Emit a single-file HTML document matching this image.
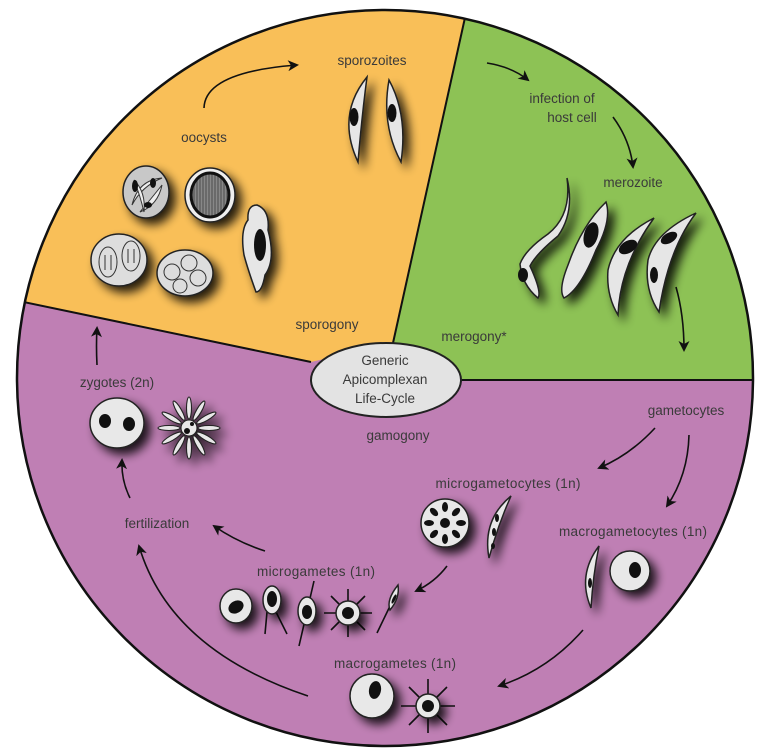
<!DOCTYPE html>
<html><head><meta charset="utf-8"><style>
html,body{margin:0;padding:0;background:#fff;}
svg{display:block}
text{font-family:"Liberation Sans",sans-serif;font-size:13.5px;fill:#3a3a3a;text-anchor:middle}
</style></head><body>
<svg width="762" height="756" viewBox="0 0 762 756" xmlns="http://www.w3.org/2000/svg">
<defs>
<filter id="sh" x="-80%" y="-80%" width="260%" height="260%">
<feGaussianBlur in="SourceAlpha" stdDeviation="5"/><feOffset dx="6" dy="6"/>
<feComponentTransfer><feFuncA type="linear" slope="0.85"/></feComponentTransfer>
<feMerge><feMergeNode/><feMergeNode in="SourceGraphic"/></feMerge></filter>
<marker id="ah" markerWidth="11" markerHeight="11" refX="9" refY="5.5" orient="auto" markerUnits="userSpaceOnUse">
<path d="M0,0 L11,5.5 L0,11 L3,5.5 Z" fill="#111"/></marker>
<clipPath id="cc"><circle cx="385" cy="378" r="368"/></clipPath>
<pattern id="st" width="3" height="3" patternUnits="userSpaceOnUse"><rect width="3" height="3" fill="#6a6a6a"/><rect width="1" height="3" fill="#888"/></pattern>
</defs>
<g clip-path="url(#cc)">
<rect x="0" y="0" width="762" height="756" fill="#BF7FB4"/>
<polygon points="465,20 393,343 311,362 24,302 -10,295 -10,-10 470,-10" fill="#F9BF58"/>
<polygon points="465,20 393,343 386,380 770,380 770,-10 470,-10" fill="#8DC255"/>
<polyline points="-10,295 311,362" stroke="#111" stroke-width="2" fill="none"/>
<polyline points="470,-5 393,343" stroke="#111" stroke-width="2" fill="none"/>
<polyline points="440,380 770,380" stroke="#111" stroke-width="2" fill="none"/>
</g>
<circle cx="385" cy="378" r="368" fill="none" stroke="#111" stroke-width="2.5"/>
<ellipse cx="386" cy="380" rx="75" ry="37" fill="#e3e3e3" stroke="#222" stroke-width="2"/>
<text x="385" y="365">Generic</text>
<text x="385" y="384">Apicomplexan</text>
<text x="385" y="403">Life-Cycle</text>

<text x="372" y="65">sporozoites</text>
<text x="204" y="142">oocysts</text>
<text x="562" y="103">infection of</text>
<text x="572" y="122">host cell</text>
<text x="633" y="187">merozoite</text>
<text x="327" y="329">sporogony</text>
<text x="474" y="341">merogony*</text>
<text x="117" y="387">zygotes (2n)</text>
<text x="398" y="440">gamogony</text>
<text x="686" y="415">gametocytes</text>
<text x="508" y="488" textLength="145">microgametocytes (1n)</text>
<text x="157" y="528">fertilization</text>
<text x="633" y="536" textLength="148">macrogametocytes (1n)</text>
<text x="316" y="576" textLength="118">microgametes (1n)</text>
<text x="395" y="668" textLength="122">macrogametes (1n)</text>

<g fill="none" stroke="#111" stroke-width="1.6" marker-end="url(#ah)">
<path d="M204,108 Q205,72 297,65"/>
<path d="M487,63 Q512,67 528,80"/>
<path d="M613,117 Q630,140 633,167"/>
<path d="M676,287 Q684,315 684,350"/>
<path d="M97,365 Q96,345 97,328"/>
<path d="M655,428 Q630,455 599,468"/>
<path d="M689,435 Q688,475 667,506"/>
<path d="M447,566 Q435,582 416,591"/>
<path d="M265,551 Q237,542 214,526"/>
<path d="M130,498 Q121,480 122,460"/>
<path d="M583,630 Q548,670 499,686"/>
<path d="M308,696 Q170,650 139,546"/>
</g>

<g filter="url(#sh)" stroke="#222" stroke-width="1.5">
<ellipse cx="146" cy="192" rx="23" ry="26" fill="#c8c8c8"/>
<ellipse cx="210" cy="195" rx="25" ry="27" fill="#eee"/>
<path d="M257,205 Q270,210 268,230 Q276,260 265,275 Q262,292 256,292 Q248,270 244,255 Q240,230 248,220 Q247,205 257,205 Z" fill="#e6e6e6"/>
<ellipse cx="119" cy="260" rx="28" ry="26" fill="#ddd"/>
<ellipse cx="185" cy="273" rx="28" ry="23" fill="#ddd"/>
</g>
<ellipse cx="210" cy="195" rx="19" ry="22" fill="url(#st)" stroke="#111" stroke-width="3"/>
<ellipse cx="260" cy="245" rx="6" ry="16" fill="#111"/>
<g fill="#eee" stroke="#333" stroke-width="1">
<path d="M132,205 Q138,180 162,178 Q142,186 132,205 Z"/>
<path d="M140,212 Q158,205 162,185 Q150,200 140,212 Z"/>
<path d="M134,180 Q146,192 144,212 Q140,195 134,180 Z"/>
</g>
<g fill="none" stroke="#333" stroke-width="1">
<ellipse cx="108" cy="262" rx="9" ry="15"/><ellipse cx="131" cy="256" rx="9" ry="15"/>
<path d="M105,255 V270 M111,255 V270 M128,249 V263 M134,249 V263"/>
<ellipse cx="172" cy="272" rx="8" ry="8"/><ellipse cx="189" cy="263" rx="8" ry="8"/><ellipse cx="198" cy="278" rx="8" ry="8"/><ellipse cx="180" cy="286" rx="7" ry="7"/>
</g>
<g fill="#111"><ellipse cx="135" cy="186" rx="3" ry="6"/><ellipse cx="153" cy="183" rx="3" ry="5"/><ellipse cx="148" cy="205" rx="4" ry="3"/></g>

<g filter="url(#sh)" stroke="#222" stroke-width="1.5" fill="#e6e6e6">
<path d="M367,77 Q336,115 358,162 Q362,115 367,77 Z"/>
<path d="M389,80 Q381,125 401,162 Q408,115 389,80 Z"/>
</g>
<ellipse cx="354" cy="117" rx="4.5" ry="9" fill="#111"/>
<ellipse cx="392" cy="113" rx="4.5" ry="9" fill="#111"/>

<g filter="url(#sh)" stroke="#222" stroke-width="1.5" fill="#e6e6e6">
<path d="M567,178 Q572,215 548,234 Q525,250 520,264 Q522,285 538,298 Q542,292 530,266 Q536,254 558,236 Q575,212 567,178 Z"/>
<path d="M606,202 Q582,225 568,265 Q558,290 564,298 Q580,290 596,250 Q612,220 606,202 Z"/>
<path d="M654,218 Q615,238 608,270 Q606,295 618,315 Q620,265 654,218 Z"/>
<path d="M696,213 Q655,232 648,260 Q644,290 659,312 Q668,250 696,213 Z"/>
</g>
<g fill="#111">
<ellipse cx="523" cy="275" rx="5" ry="7"/>
<ellipse cx="591" cy="235" rx="7" ry="13" transform="rotate(15 591 235)"/>
<ellipse cx="628" cy="247" rx="6" ry="10" transform="rotate(60 628 247)"/>
<ellipse cx="669" cy="238" rx="5" ry="9" transform="rotate(60 669 238)"/>
<ellipse cx="654" cy="275" rx="4" ry="8"/>
</g>

<g filter="url(#sh)" stroke="#222" stroke-width="1.5" fill="#e8e8e8">
<ellipse cx="117" cy="423" rx="27" ry="25"/>
<g stroke-width="1.1">
<ellipse cx="189" cy="408" rx="2.5" ry="11"/>
<ellipse cx="189" cy="408" rx="2.5" ry="11" transform="rotate(30 189 428)"/>
<ellipse cx="189" cy="408" rx="2.5" ry="11" transform="rotate(60 189 428)"/>
<ellipse cx="189" cy="408" rx="2.5" ry="11" transform="rotate(90 189 428)"/>
<ellipse cx="189" cy="408" rx="2.5" ry="11" transform="rotate(120 189 428)"/>
<ellipse cx="189" cy="408" rx="2.5" ry="11" transform="rotate(150 189 428)"/>
<ellipse cx="189" cy="408" rx="2.5" ry="11" transform="rotate(180 189 428)"/>
<ellipse cx="189" cy="408" rx="2.5" ry="11" transform="rotate(210 189 428)"/>
<ellipse cx="189" cy="408" rx="2.5" ry="11" transform="rotate(240 189 428)"/>
<ellipse cx="189" cy="408" rx="2.5" ry="11" transform="rotate(270 189 428)"/>
<ellipse cx="189" cy="408" rx="2.5" ry="11" transform="rotate(300 189 428)"/>
<ellipse cx="189" cy="408" rx="2.5" ry="11" transform="rotate(330 189 428)"/>
<circle cx="189" cy="428" r="8"/>
</g>
</g>
<g fill="#111"><ellipse cx="105" cy="421" rx="6" ry="7"/><ellipse cx="129" cy="424" rx="6" ry="7"/><circle cx="187" cy="431" r="3"/><circle cx="192" cy="424" r="2"/></g>

<g filter="url(#sh)" stroke="#222" stroke-width="1.5" fill="#e8e8e8">
<circle cx="445" cy="523" r="24"/>
<path d="M511,496 Q482,520 489,558 Q498,525 511,496 Z"/>
<path d="M599,546 Q577,575 591,608 Q593,575 599,546 Z"/>
<circle cx="630" cy="571" r="20"/>
</g>
<g fill="#111">
<circle cx="445" cy="523" r="5"/>
<ellipse cx="445" cy="507" rx="3" ry="5"/><ellipse cx="445" cy="539" rx="3" ry="5"/>
<ellipse cx="429" cy="523" rx="5" ry="3"/><ellipse cx="461" cy="523" rx="5" ry="3"/>
<ellipse cx="434" cy="512" rx="3" ry="5" transform="rotate(-45 434 512)"/><ellipse cx="456" cy="534" rx="3" ry="5" transform="rotate(-45 456 534)"/>
<ellipse cx="456" cy="512" rx="3" ry="5" transform="rotate(45 456 512)"/><ellipse cx="434" cy="534" rx="3" ry="5" transform="rotate(45 434 534)"/>
<ellipse cx="497" cy="518" rx="2" ry="4"/><ellipse cx="494" cy="532" rx="2" ry="4"/><ellipse cx="493" cy="546" rx="2" ry="3"/>
<ellipse cx="590" cy="583" rx="2" ry="5"/>
<ellipse cx="635" cy="570" rx="6" ry="8"/>
</g>

<g stroke="#111" stroke-width="1.6" fill="none">
<path d="M267,612 L265,634 M276,612 L287,634"/>
<path d="M314,581 L299,646"/>
<path d="M348,589 V637 M324,613 H372 M331,596 L365,630 M365,596 L331,630"/>
<path d="M391,604 L377,633"/>
<path d="M428,679 V733 M401,706 H455 M409,687 L447,725 M447,687 L409,725"/>
</g>
<g filter="url(#sh)" stroke="#222" stroke-width="1.5" fill="#e8e8e8">
<ellipse cx="236" cy="606" rx="16" ry="17"/>
<ellipse cx="272" cy="600" rx="9" ry="14"/>
<ellipse cx="307" cy="611" rx="9" ry="14"/>
<circle cx="348" cy="613" r="12"/>
<path d="M398,585 Q386,600 390,610 Q400,598 398,585 Z"/>
<ellipse cx="372" cy="696" rx="22" ry="22"/>
<circle cx="428" cy="706" r="12"/>
</g>
<g fill="#111">
<ellipse cx="236" cy="607" rx="8" ry="6" transform="rotate(-30 236 607)"/>
<ellipse cx="272" cy="599" rx="5" ry="8"/>
<ellipse cx="307" cy="612" rx="5" ry="7"/>
<circle cx="348" cy="613" r="6"/>
<ellipse cx="394" cy="599" rx="1.5" ry="5" transform="rotate(25 394 599)"/>
<ellipse cx="375" cy="690" rx="6" ry="9" transform="rotate(10 375 690)"/>
<circle cx="428" cy="706" r="6"/>
</g>
</svg>
</body></html>
